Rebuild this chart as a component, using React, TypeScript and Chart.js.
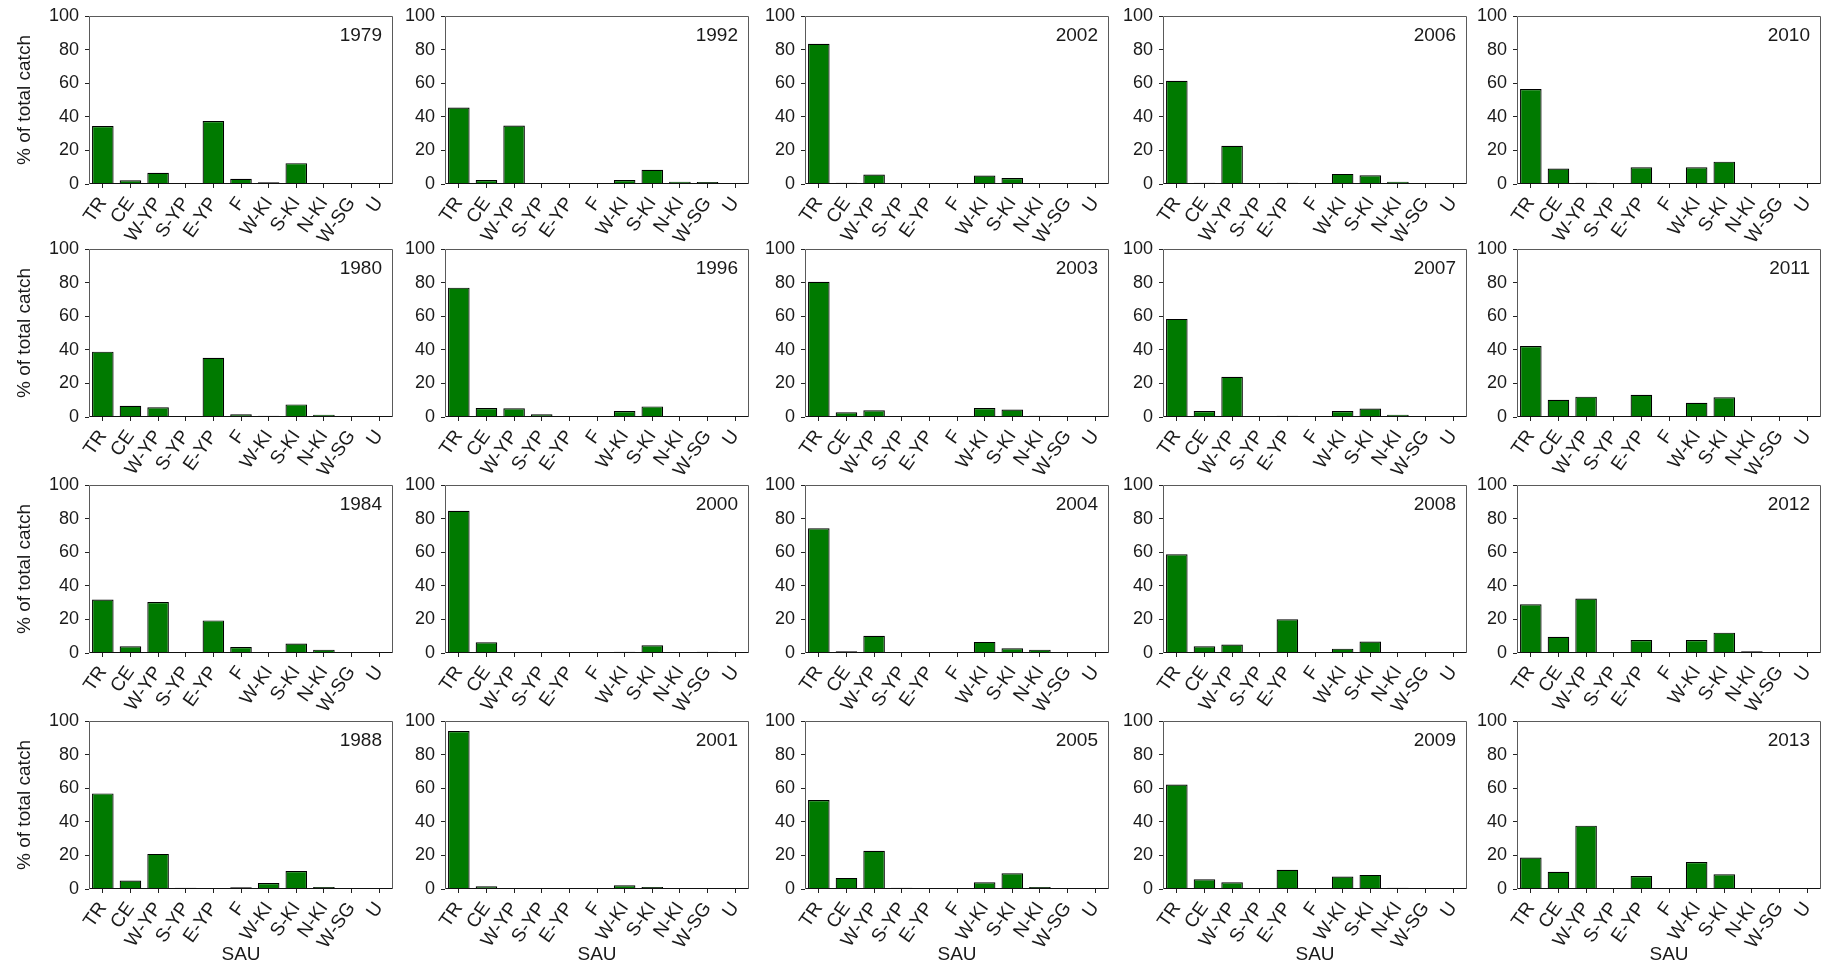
import React, { useEffect, useRef } from 'react';
import { Chart, registerables } from 'chart.js';

Chart.register(...registerables);

const categories = ['TR', 'CE', 'W-YP', 'S-YP', 'E-YP', 'F', 'W-KI', 'S-KI', 'N-KI', 'W-SG', 'U'];
const yTicks = [0, 20, 40, 60, 80, 100];

const y1979 = [34.5, 2.2, 6.7, 0.4, 37.5, 3.1, 1.0, 12.4, 0.4, 0, 0];
const y1980 = [38.9, 6.7, 5.8, 0.6, 35.3, 1.6, 0.8, 7.5, 1.4, 0, 0];
const y1984 = [31.8, 4.0, 30.4, 0.4, 19.4, 3.6, 0.6, 5.6, 2.0, 0, 0];
const y1988 = [56.9, 5.0, 20.9, 0.8, 0, 1.0, 3.6, 10.7, 1.2, 0, 0];
const y1992 = [45.5, 2.4, 34.8, 0.4, 0.4, 0, 2.4, 8.5, 1.4, 1.2, 0];
const y1996 = [77.0, 5.4, 5.2, 1.6, 0, 0, 3.6, 6.3, 0.1, 0.4, 0];
const y2000 = [84.7, 6.4, 0.6, 0, 0, 0, 0.8, 4.6, 0.6, 0.8, 0];
const y2001 = [94.0, 1.6, 0, 0, 0, 0, 2.2, 1.2, 0.3, 0, 0];
const y2002 = [83.5, 0.8, 5.6, 0, 0, 0, 5.0, 3.6, 0.4, 0, 0];
const y2003 = [80.5, 2.8, 4.0, 0, 0.4, 0, 5.4, 4.4, 0.8, 0, 0];
const y2004 = [74.3, 1.0, 10.2, 0, 0, 0, 6.6, 2.8, 2.0, 0.6, 0.6];
const y2005 = [53.0, 6.6, 22.7, 0.8, 0, 0, 4.0, 9.4, 1.2, 0.6, 0.6];
const y2006 = [61.4, 0.8, 22.7, 0, 0.8, 0, 6.0, 5.2, 1.4, 0, 0];
const y2007 = [58.4, 3.6, 23.9, 0.4, 0.8, 0, 3.6, 5.0, 1.4, 0.4, 0];
const y2008 = [58.8, 4.0, 5.0, 0, 20.1, 0, 2.6, 6.8, 0.6, 0.2, 0];
const y2009 = [62.2, 5.8, 4.0, 0, 11.4, 0, 7.4, 8.4, 0.8, 0, 0];
const y2010 = [56.5, 9.2, 0.7, 0, 10.0, 0, 10.0, 13.3, 0, 0, 0];
const y2011 = [42.3, 10.3, 12.1, 0.4, 13.2, 0, 8.5, 11.8, 0.4, 0, 0];
const y2012 = [29.0, 9.6, 32.4, 0.6, 7.7, 0, 7.7, 12.1, 1.0, 0, 0];
const y2013 = [18.7, 10.3, 37.7, 0.3, 7.7, 0.3, 16.1, 8.8, 0.6, 0, 0];

const gridYears = [
  ['1979', '1992', '2002', '2006', '2010'],
  ['1980', '1996', '2003', '2007', '2011'],
  ['1984', '2000', '2004', '2008', '2012'],
  ['1988', '2001', '2005', '2009', '2013'],
];

const seriesByYear: Record<string, number[]> = {
  '1979': y1979, '1980': y1980, '1984': y1984, '1988': y1988,
  '1992': y1992, '1996': y1996, '2000': y2000, '2001': y2001,
  '2002': y2002, '2003': y2003, '2004': y2004, '2005': y2005,
  '2006': y2006, '2007': y2007, '2008': y2008, '2009': y2009,
  '2010': y2010, '2011': y2011, '2012': y2012, '2013': y2013,
};

const COL_LEFT = [89, 445, 805, 1163, 1517];
const ROW_TOP = [16, 249, 485, 721];
const PLOT_W = 304;
const PLOT_H = 168;
const FONT = "'Liberation Sans', Arial, sans-serif";
const TEXT = '#1a1a1a';

function Panel({ year, row, col }: { year: string; row: number; col: number }) {
  const ref = useRef<HTMLCanvasElement | null>(null);
  const L = col === 0 ? 89 : 50;
  const T = 14;
  const R = col === 4 ? 1822 - (COL_LEFT[4] + PLOT_W) : 12;
  const B = row === 3 ? 77 : 64;
  const width = L + PLOT_W + R;
  const height = T + PLOT_H + B;

  useEffect(() => {
    if (!ref.current) return;
    const boxPlugin = {
      id: 'boxAndYear',
      afterDatasetsDraw(chart: any) {
        const { ctx, chartArea } = chart;
        const l = Math.round(chartArea.left) + 0.5;
        const t = Math.round(chartArea.top) + 0.5;
        const r = Math.round(chartArea.right) - 0.5;
        const b = Math.round(chartArea.bottom) - 0.5;
        ctx.save();
        ctx.lineWidth = 1;
        ctx.strokeStyle = '#5a5a5a';
        ctx.beginPath();
        ctx.moveTo(l, b);
        ctx.lineTo(l, t);
        ctx.lineTo(r, t);
        ctx.lineTo(r, b);
        ctx.stroke();
        ctx.strokeStyle = '#111';
        ctx.beginPath();
        ctx.moveTo(l, b);
        ctx.lineTo(r, b);
        ctx.stroke();
        ctx.fillStyle = TEXT;
        ctx.font = `19px ${FONT}`;
        ctx.textAlign = 'right';
        ctx.textBaseline = 'top';
        ctx.fillText(year, chartArea.right - 11, chartArea.top + 10);
        ctx.restore();
      },
    };

    const chart = new Chart(ref.current, {
      type: 'bar',
      data: {
        labels: categories,
        datasets: [
          {
            data: seriesByYear[year],
            backgroundColor: '#007a00',
            borderColor: '#000000',
            borderWidth: 1.2,
            barPercentage: 0.78,
            categoryPercentage: 1,
          },
        ],
      },
      options: {
        responsive: false,
        maintainAspectRatio: false,
        animation: false,
        devicePixelRatio: 1,
        layout: { padding: { top: T, right: R, left: 0, bottom: 0 } },
        plugins: {
          legend: { display: false },
          tooltip: { enabled: false },
        },
        scales: {
          x: {
            offset: true,
            grid: {
              display: true,
              drawOnChartArea: false,
              drawTicks: true,
              tickLength: 4,
              offset: false,
              tickColor: '#222',
            },
            border: { display: false },
            ticks: {
              minRotation: 55,
              maxRotation: 55,
              autoSkip: false,
              padding: 5,
              color: TEXT,
              font: { family: FONT, size: 19 },
            },
            title: {
              display: row === 3,
              text: 'SAU',
              color: TEXT,
              font: { family: FONT, size: 19 },
              padding: { top: 0, bottom: 0 },
            },
            afterFit: (s: any) => {
              s.height = B;
              s.paddingLeft = 0;
              s.paddingRight = 0;
            },
          },
          y: {
            min: 0,
            max: 100,
            grid: {
              display: true,
              drawOnChartArea: false,
              drawTicks: true,
              tickLength: 4,
              tickColor: '#222',
            },
            border: { display: false },
            ticks: {
              stepSize: 10,
              padding: 6,
              color: TEXT,
              font: { family: FONT, size: 18 },
              callback: (v: any) => (yTicks.includes(Number(v)) ? String(v) : ''),
            },
            title: {
              display: col === 0,
              text: '% of total catch',
              color: TEXT,
              font: { family: FONT, size: 19 },
              padding: { top: 13, bottom: 0 },
            },
            afterFit: (s: any) => {
              s.width = L;
              s.paddingTop = 0;
              s.paddingBottom = 0;
            },
          },
        },
      } as any,
      plugins: [boxPlugin],
    });
    return () => chart.destroy();
  }, [year, row, col]);

  return (
    <canvas
      ref={ref}
      width={width}
      height={height}
      style={{
        position: 'absolute',
        left: COL_LEFT[col] - L,
        top: ROW_TOP[row] - T,
        width,
        height,
      }}
    />
  );
}

export default function App() {
  return (
    <div
      style={{
        position: 'absolute',
        left: 0,
        top: 0,
        width: 1822,
        height: 967,
        overflow: 'hidden',
        background: '#ffffff',
      }}
    >
      {gridYears.map((rowYears, r) =>
        rowYears.map((y, c) => <Panel key={y} year={y} row={r} col={c} />)
      )}
    </div>
  );
}
